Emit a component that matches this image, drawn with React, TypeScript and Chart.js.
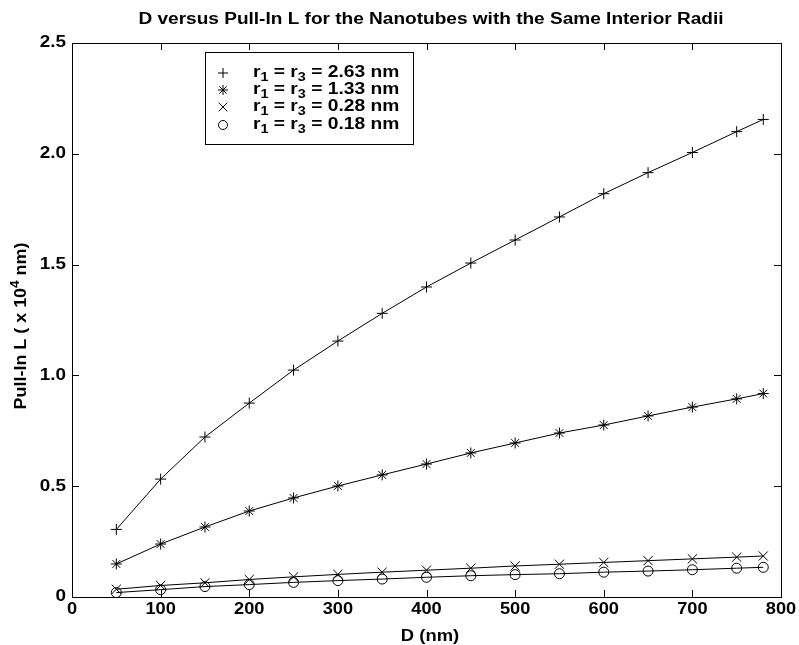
import React, { useEffect, useRef } from "react";
import { Chart, registerables } from "chart.js";

Chart.register(...registerables);

const dValues = [50, 100, 150, 200, 250, 300, 350, 400, 450, 500, 550, 600, 650, 700, 750, 780];
const seriesR263 = [0.305, 0.532, 0.722, 0.875, 1.024, 1.155, 1.28, 1.399, 1.507, 1.611, 1.715, 1.82, 1.915, 2.006, 2.1, 2.155];
const seriesR133 = [0.149, 0.239, 0.316, 0.388, 0.447, 0.501, 0.551, 0.6, 0.65, 0.695, 0.74, 0.776, 0.817, 0.857, 0.894, 0.918];
const seriesR028 = [0.035, 0.052, 0.064, 0.079, 0.091, 0.102, 0.112, 0.121, 0.13, 0.14, 0.148, 0.156, 0.164, 0.172, 0.18, 0.185];
const seriesR018 = [0.02, 0.033, 0.047, 0.056, 0.066, 0.074, 0.081, 0.089, 0.096, 0.101, 0.105, 0.112, 0.117, 0.123, 0.13, 0.134];

const legendValues = ["2.63", "1.33", "0.28", "0.18"];
const legendStyles = ["cross", "star", "crossRot", "circle"];

const xTicks = [0, 100, 200, 300, 400, 500, 600, 700, 800];
const yTicks = [0, 0.5, 1.0, 1.5, 2.0, 2.5];
const yTickLabels = ["0", "0.5", "1.0", "1.5", "2.0", "2.5"];

const titleText = "D versus Pull-In L for the Nanotubes with the Same Interior Radii";
const xTitle = "D (nm)";

const FONT = "'Liberation Sans', Arial, sans-serif";

function toPoints(vals: number[]) {
  return dValues.map((d, i) => ({ x: d, y: vals[i] }));
}

function drawMarker(ctx: CanvasRenderingContext2D, style: string, x: number, y: number) {
  ctx.beginPath();
  if (style === "cross" || style === "star") {
    const r = 5;
    ctx.moveTo(x - r, y); ctx.lineTo(x + r, y);
    ctx.moveTo(x, y - r); ctx.lineTo(x, y + r);
  }
  if (style === "crossRot" || style === "star") {
    const r = style === "star" ? 3.6 : 4.3;
    ctx.moveTo(x - r, y - r); ctx.lineTo(x + r, y + r);
    ctx.moveTo(x - r, y + r); ctx.lineTo(x + r, y - r);
  }
  if (style === "circle") {
    ctx.arc(x, y, 4.5, 0, Math.PI * 2);
  }
  ctx.stroke();
}

type Part = { t: string; sub?: boolean; sup?: boolean };

function fontFor(p: Part, size: number, weight: string) {
  return p.sub || p.sup ? `${weight} ${Math.round(size * 0.72)}px ${FONT}` : `${weight} ${size}px ${FONT}`;
}

function measureRich(ctx: CanvasRenderingContext2D, parts: Part[], size: number, weight: string) {
  let w = 0;
  for (const p of parts) {
    ctx.font = fontFor(p, size, weight);
    w += ctx.measureText(p.t).width;
  }
  return w;
}

// draws rich text horizontally stretched by sx; align: left/center/right relative to x
function drawRich(
  ctx: CanvasRenderingContext2D,
  parts: Part[],
  x: number,
  y: number,
  size: number,
  weight: string,
  sx: number,
  align: "left" | "center" | "right"
) {
  const w = measureRich(ctx, parts, size, weight);
  let start = 0;
  if (align === "center") start = -w / 2;
  if (align === "right") start = -w;
  ctx.save();
  ctx.translate(x, y);
  ctx.scale(sx, 1);
  ctx.textAlign = "left";
  ctx.textBaseline = "middle";
  let cx = start;
  for (const p of parts) {
    ctx.font = fontFor(p, size, weight);
    const dy = p.sub ? size * 0.3 : p.sup ? -size * 0.38 : 0;
    ctx.fillText(p.t, cx, dy);
    cx += ctx.measureText(p.t).width;
  }
  ctx.restore();
}

const decorPlugin = {
  id: "decor",
  afterDraw(chart: any) {
    const ctx: CanvasRenderingContext2D = chart.ctx;
    const a = chart.chartArea;
    const xs = chart.scales.x;
    const ys = chart.scales.y;
    ctx.save();
    ctx.strokeStyle = "#000";
    ctx.fillStyle = "#000";
    ctx.lineWidth = 1;
    // frame
    ctx.strokeRect(Math.round(a.left) + 0.5, Math.round(a.top) + 0.5, Math.round(a.right - a.left), Math.round(a.bottom - a.top));
    // inward ticks
    ctx.beginPath();
    const tl = 7;
    for (const v of xTicks) {
      const px = Math.round(xs.getPixelForValue(v)) + 0.5;
      ctx.moveTo(px, a.bottom); ctx.lineTo(px, a.bottom - tl);
      ctx.moveTo(px, a.top); ctx.lineTo(px, a.top + tl);
    }
    for (const v of yTicks) {
      const py = Math.round(ys.getPixelForValue(v)) + 0.5;
      ctx.moveTo(a.left, py); ctx.lineTo(a.left + tl, py);
      ctx.moveTo(a.right, py); ctx.lineTo(a.right - tl, py);
    }
    ctx.stroke();

    // tick labels
    for (const v of xTicks) {
      drawRich(ctx, [{ t: String(v) }], xs.getPixelForValue(v), a.bottom + 13, 16, "bold", 1.14, "center");
    }
    yTicks.forEach((v, i) => {
      drawRich(ctx, [{ t: yTickLabels[i] }], a.left - 6, ys.getPixelForValue(v), 16, "bold", 1.18, "right");
    });

    // title
    drawRich(ctx, [{ t: titleText }], 431, 20, 16, "bold", 1.19, "center");

    // x title
    drawRich(ctx, [{ t: xTitle }], 430, 637, 16, "bold", 1.15, "center");

    // y title
    ctx.save();
    ctx.translate(22, 326);
    ctx.rotate(-Math.PI / 2);
    drawRich(ctx, [{ t: "Pull-In L ( x 10" }, { t: "4", sup: true }, { t: " nm)" }], 0, 0, 16, "bold", 1.12, "center");
    ctx.restore();

    // legend
    const lx = 205, ly = 52, lw = 208, lh = 92;
    ctx.fillStyle = "#fff";
    ctx.fillRect(lx, ly, lw, lh);
    ctx.strokeRect(lx + 0.5, ly + 0.5, lw, lh);
    ctx.fillStyle = "#000";
    const rowY = [73, 90, 107, 125];
    legendValues.forEach((val, i) => {
      drawMarker(ctx, legendStyles[i], 223, rowY[i]);
      drawRich(ctx, [{ t: "r" }, { t: "1", sub: true }, { t: " = r" }, { t: "3", sub: true }, { t: ` = ${val} nm` }], 253, rowY[i], 16, "bold", 1.2, "left");
    });
    ctx.restore();
  },
};

export default function App() {
  const ref = useRef<HTMLCanvasElement>(null);
  useEffect(() => {
    if (!ref.current) return;
    const mk = (vals: number[], style: string, radius: number) => ({
      data: toPoints(vals),
      borderColor: "#000",
      backgroundColor: "rgba(0,0,0,0)",
      borderWidth: 1,
      pointStyle: style,
      pointRadius: radius,
      pointBorderColor: "#000",
      pointBackgroundColor: "rgba(0,0,0,0)",
      pointBorderWidth: 1,
      tension: 0,
    });
    const chart = new Chart(ref.current, {
      type: "line",
      data: {
        datasets: [
          mk(seriesR263, "cross", 5.5),
          mk(seriesR133, "star", 5.5),
          mk(seriesR028, "crossRot", 6.5),
          mk(seriesR018, "circle", 5),
        ] as any,
      },
      options: {
        animation: false,
        responsive: false,
        layout: { padding: { top: 43, right: 18, left: 0, bottom: 0 } },
        plugins: { legend: { display: false }, title: { display: false }, tooltip: { enabled: false } },
        scales: {
          x: {
            type: "linear",
            min: 0,
            max: 800,
            afterFit: (s: any) => { s.height = 48; },
            grid: { display: false, drawTicks: false },
            border: { display: false },
            ticks: { display: false, stepSize: 100 },
          },
          y: {
            type: "linear",
            min: 0,
            max: 2.5,
            afterFit: (s: any) => { s.width = 72; },
            grid: { display: false, drawTicks: false },
            border: { display: false },
            ticks: { display: false, stepSize: 0.5 },
          },
        },
      },
      plugins: [decorPlugin],
    });
    return () => chart.destroy();
  }, []);
  return (
    <div style={{ position: "absolute", left: 0, top: 0, width: 799, height: 645, background: "#fff" }}>
      <canvas ref={ref} width={799} height={645} style={{ width: 799, height: 645 }} />
    </div>
  );
}
